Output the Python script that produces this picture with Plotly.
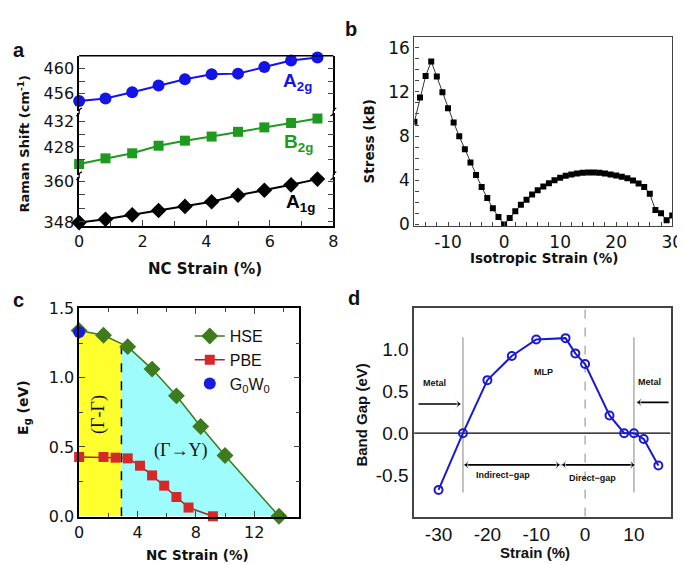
import numpy as np
import plotly.graph_objects as go

W, H = 685, 565
def fx(p): return p / W
def fy(p): return 1 - p / H

# ---------------- Panel a : Raman shift vs NC strain ----------------
nc_strain_a = [0, 0.83, 1.67, 2.5, 3.33, 4.17, 5.0, 5.83, 6.67, 7.5]
a2g = [454.8, 455.2, 456.2, 457.3, 458.3, 459.1, 459.2, 460.25, 461.3, 461.8]
b2g = [425.3, 426.2, 427.0, 428.2, 429.0, 429.65, 430.4, 431.1, 431.8, 432.5]
a1g = [347.8, 348.8, 350.1, 351.4, 352.6, 354.0, 355.9, 357.4, 359.0, 360.7]

# ---------------- Panel b : stress vs isotropic strain ----------------
iso_strain = list(range(-16, 31))
stress = [9.29, 11.48, 13.44, 14.75, 13.38, 11.97, 10.52, 9.23, 7.98, 6.8,
          5.6, 4.47, 3.38, 2.39, 1.46, 0.67, 0.0, 0.58, 1.19, 1.78,
          2.24, 2.72, 3.09, 3.44, 3.73, 4.0, 4.23, 4.41, 4.52, 4.61,
          4.67, 4.7, 4.7, 4.67, 4.61, 4.52, 4.44, 4.32, 4.18, 3.97,
          3.71, 3.39, 2.77, 1.31, 1.02, 0.38, 0.82]

# ---------------- Panel c : band gap vs NC strain ----------------
hse_strain = [0, 1.67, 3.33, 5.0, 6.67, 8.33, 10.0, 13.7]
hse_gap = [1.34, 1.306, 1.224, 1.062, 0.869, 0.648, 0.439, 0.0]
pbe_strain = [0, 1.67, 2.5, 3.33, 4.17, 5.0, 5.83, 6.67, 7.5, 9.17]
pbe_gap = [0.428, 0.428, 0.423, 0.418, 0.365, 0.295, 0.221, 0.139, 0.063, 0.0]
g0w0_strain = [0]
g0w0_gap = [1.33]
transition_strain = 2.9

# ---------------- Panel d : band gap vs strain ----------------
strain_d = [-30, -25, -20, -15, -10, -4, -2, 0, 5, 8, 10, 12, 15]
gap_d = [-0.68, 0.0, 0.636, 0.926, 1.124, 1.14, 0.957, 0.83, 0.213, 0.0, 0.0, -0.07, -0.388]

BLUE = "#1414e6"
GREEN_A = "#1e9a1e"
HSE_C = "#3f7a1c"
PBE_C = "#d62828"
PBE_L = "#9c2a2a"
DJ = "DejaVu Sans"
LS = "Liberation Sans"
SERIF = "Liberation Serif"

fig = go.Figure()

# ---- panel a traces
fig.add_trace(go.Scatter(x=nc_strain_a, y=a2g, xaxis="x", yaxis="y", mode="lines+markers",
                         line=dict(color=BLUE, width=2), marker=dict(symbol="circle", size=12, color=BLUE),
                         showlegend=False, cliponaxis=False))
fig.add_trace(go.Scatter(x=nc_strain_a, y=b2g, xaxis="x", yaxis="y2", mode="lines+markers",
                         line=dict(color=GREEN_A, width=2), marker=dict(symbol="square", size=10, color=GREEN_A),
                         showlegend=False, cliponaxis=False))
fig.add_trace(go.Scatter(x=nc_strain_a, y=a1g, xaxis="x", yaxis="y3", mode="lines+markers",
                         line=dict(color="black", width=2), marker=dict(symbol="diamond", size=12, color="black"),
                         showlegend=False, cliponaxis=False))

# ---- panel b
fig.add_trace(go.Scatter(x=iso_strain, y=stress, xaxis="x2", yaxis="y4", mode="lines+markers",
                         line=dict(color="#333", width=1), marker=dict(symbol="square", size=6, color="black"),
                         showlegend=False))

# ---- panel c fills
hs = np.array(hse_strain, dtype=float)
hg = np.array(hse_gap, dtype=float)
gb = float(np.interp(transition_strain, hs, hg))
left = hs < transition_strain
yx = list(hs[left]) + [transition_strain, transition_strain, hs[0]]
yy = list(hg[left]) + [gb, 0, 0]
fig.add_trace(go.Scatter(x=yx, y=yy, xaxis="x3", yaxis="y5", fill="toself", fillcolor="#ffff2e",
                         line=dict(width=0), mode="lines", showlegend=False, hoverinfo="skip"))
right = hs > transition_strain
cx = [transition_strain] + list(hs[right]) + [transition_strain]
cy = [gb] + list(hg[right]) + [0]
fig.add_trace(go.Scatter(x=cx, y=cy, xaxis="x3", yaxis="y5", fill="toself", fillcolor="#9ffcfc",
                         line=dict(width=0), mode="lines", showlegend=False, hoverinfo="skip"))
fig.add_trace(go.Scatter(x=[transition_strain, transition_strain], y=[0, gb], xaxis="x3", yaxis="y5",
                         mode="lines", line=dict(color="black", width=1.5, dash="dash"),
                         showlegend=False, hoverinfo="skip"))
fig.add_trace(go.Scatter(x=hse_strain, y=hse_gap, xaxis="x3", yaxis="y5", mode="lines+markers", name="HSE",
                         line=dict(color=HSE_C, width=1.5), marker=dict(symbol="diamond", size=13, color=HSE_C),
                         cliponaxis=False))
fig.add_trace(go.Scatter(x=pbe_strain, y=pbe_gap, xaxis="x3", yaxis="y5", mode="lines+markers", name="PBE",
                         line=dict(color=PBE_L, width=1.5), marker=dict(symbol="square", size=10, color=PBE_C),
                         cliponaxis=False))
fig.add_trace(go.Scatter(x=g0w0_strain, y=g0w0_gap, xaxis="x3", yaxis="y5", mode="markers",
                         name="G<sub>0</sub>W<sub>0</sub>",
                         marker=dict(symbol="circle", size=12, color="#1a1ae0"), cliponaxis=False))

# ---- panel d
fig.add_trace(go.Scatter(x=strain_d, y=gap_d, xaxis="x4", yaxis="y6", mode="lines+markers",
                         line=dict(color="#1a1ad0", width=2),
                         marker=dict(symbol="circle-open", size=8, color="#1a1ad0", line=dict(width=2)),
                         showlegend=False))

# panel d arrows (decorations) drawn as line traces with arrow-head markers
def arrow(x0, x1, y, both=False):
    d1 = 90 if x1 > x0 else -90
    sizes = [9 if both else 0, 9]
    fig.add_trace(go.Scatter(x=[x0, x1], y=[y, y], xaxis="x4", yaxis="y6", mode="lines+markers",
                             line=dict(color="black", width=1.6),
                             marker=dict(symbol="arrow-wide", size=sizes, color="black",
                                         angle=[-d1, d1], angleref="up"),
                             showlegend=False, hoverinfo="skip", cliponaxis=False))
arrow(-34.1, -25.4, 0.35)
arrow(17.1, 10.6, 0.37)
arrow(-24.8, -5.1, -0.38, both=True)
arrow(-4.8, 10.2, -0.38, both=True)

tickfont_a = dict(family=DJ, size=16, color="#111")
common = dict(showgrid=False, zeroline=False)

def seg_axis(domain, rng, major, minor_vals):
    return dict(domain=domain, range=rng, anchor="x", showline=True,
                linecolor="black", linewidth=1.5, ticks="inside", ticklen=6, tickwidth=1.2,
                tickmode="array", tickvals=major, mirror="ticks",
                minor=dict(tickmode="array", tickvals=minor_vals, ticks="inside", ticklen=6, tickwidth=1.2),
                tickfont=tickfont_a, **common)

layout = dict(
    width=W, height=H, autosize=False,
    margin=dict(l=0, r=0, t=0, b=0),
    paper_bgcolor="white", plot_bgcolor="rgba(0,0,0,0)",
    # panel a
    xaxis=dict(domain=[fx(67.7), fx(328)], range=[0, 8], anchor="y3", showline=True, linecolor="black",
               linewidth=1.5, ticks="inside", ticklen=6, tickwidth=1.2, tickvals=[0, 2, 4, 6, 8],
               minor=dict(tick0=0, dtick=1, ticks="inside", ticklen=5, tickwidth=1.2),
               tickfont=tickfont_a, mirror=False, **common),
    yaxis=seg_axis([fy(97), fy(40)], [453.2, 462.08], [456, 460], [458]),
    yaxis2=seg_axis([fy(163), fy(99)], [423.6, 433.4], [428, 432], [426, 430]),
    yaxis3=seg_axis([fy(216), fy(165)], [346.76, 361.4], [348, 360], [352, 356]),
    # panel b
    xaxis2=dict(domain=[fx(411), fx(675)], range=[-16, 30], anchor="y4", showline=True, linecolor="#444",
                linewidth=1.2, ticks="inside", ticklen=4, tickwidth=1, tickvals=[-10, 0, 10, 20, 30],
                ticktext=["-10", "0", "10", "20", "30"],
                minor=dict(tick0=0, dtick=2, ticks="inside", ticklen=4, tickwidth=1),
                tickfont=dict(family=DJ, size=17, color="#111"), mirror=True, **common),
    yaxis4=dict(domain=[fy(216), fy(20.7)], range=[-0.15, 16.96], anchor="x2", showline=True,
                linecolor="#444", linewidth=1.2, ticks="inside", ticklen=4, tickwidth=1,
                tick0=0, dtick=4, minor=dict(tick0=0, dtick=1, ticks="inside", ticklen=4, tickwidth=1),
                tickfont=dict(family=DJ, size=17, color="#111"), mirror=True, **common),
    # panel c
    xaxis3=dict(domain=[fx(67.7), fx(293.3)], range=[0, 15.1], anchor="y5", showline=True,
                linecolor="black", linewidth=1.5, ticks="inside", ticklen=6, tickwidth=1.2,
                tick0=0, dtick=4, minor=dict(tick0=0, dtick=2, ticks="inside", ticklen=4, tickwidth=1.2),
                tickfont=dict(family=DJ, size=16, color="#111"), mirror="allticks", **common),
    yaxis5=dict(domain=[fy(516), fy(301)], range=[-0.002, 1.5], anchor="x3", showline=True,
                linecolor="black", linewidth=1.5, ticks="inside", ticklen=6, tickwidth=1.2,
                tick0=0, dtick=0.5, tickformat=".1f",
                minor=dict(tick0=0, dtick=0.25, ticks="inside", ticklen=4, tickwidth=1.2),
                tickfont=dict(family=DJ, size=16, color="#111"), mirror="allticks", **common),
    # panel d
    xaxis4=dict(domain=[fx(410.7), fx(673.3)], range=[-35, 17.5], anchor="y6", showline=True,
                linecolor="#444", linewidth=1.5, ticks="", tickvals=[-30, -20, -10, 0, 10],
                ticktext=["-30", "-20", "-10", "0", "10"],
                tickfont=dict(family=LS, size=19, color="#111"), mirror=True, **common),
    yaxis6=dict(domain=[fy(516), fy(300.7)], range=[-1, 1.5], anchor="x4", showline=True,
                linecolor="#444", linewidth=1.5, ticks="", tickvals=[-0.5, 0, 0.5, 1.0],
                ticktext=["-0.5", "0.0", "0.5", "1.0"],
                tickfont=dict(family=LS, size=19, color="#111"), mirror=True, **common),
    legend=dict(x=fx(181), y=fy(312), xanchor="left", yanchor="top", bgcolor="rgba(0,0,0,0)",
                font=dict(family=LS, size=16, color="#111"), tracegroupgap=0, itemwidth=30),
)
fig.update_layout(**layout)

shapes = []
# panel a top border
shapes.append(dict(type="line", xref="paper", yref="paper", x0=fx(67.7), x1=fx(328), y0=fy(40), y1=fy(40),
                   line=dict(color="black", width=1.5)))
# break marks on panel a
def squiggle(xp, yp):
    pts = [(xp - 3, yp + 4), (xp + 4, yp + 2), (xp - 4, yp - 2), (xp + 3, yp - 4)]
    p = [(fx(a), fy(b)) for a, b in pts]
    return "M {} {} C {} {}, {} {}, {} {}".format(p[0][0], p[0][1], p[1][0], p[1][1], p[2][0], p[2][1], p[3][0], p[3][1])
for xp in (67.7, 328):
    for yp in (98, 164):
        shapes.append(dict(type="path", xref="paper", yref="paper", path=squiggle(xp, yp),
                           line=dict(color="black", width=1.3)))
# panel d reference lines
shapes.append(dict(type="line", xref="x4", yref="y6", x0=-35, x1=17.5, y0=0, y1=0,
                   line=dict(color="black", width=1.2), layer="below"))
shapes.append(dict(type="line", xref="x4", yref="y6", x0=0, x1=0, y0=-1, y1=1.5,
                   line=dict(color="#888", width=1, dash="dash"), layer="below"))
for xv in (-25, 10):
    shapes.append(dict(type="line", xref="x4", yref="y6", x0=xv, x1=xv, y0=-0.71, y1=1.15,
                       line=dict(color="#999", width=1.2), layer="below"))
fig.update_layout(shapes=shapes)

ann = []
def txt(x, y, text, size, family=DJ, bold=False, color="#111", angle=0, xanchor="center"):
    t = "<b>" + text + "</b>" if bold else text
    ann.append(dict(x=fx(x), y=fy(y), xref="paper", yref="paper", text=t, showarrow=False,
                    font=dict(family=family, size=size, color=color), textangle=angle,
                    xanchor=xanchor, yanchor="middle"))

# panel letters
txt(6, 34, "a", 20, LS, True)
txt(346, 12, "b", 20, LS, True)
txt(6, 292, "c", 20, LS, True)
txt(349, 290, "d", 20, LS, True)

# panel a
txt(197, 260, "NC Strain (%)", 15, DJ, True)
txt(11, 131, "Raman Shift (cm<sup>-1</sup>)", 13, DJ, True, angle=-90)
txt(291, 67, "A<sub>2g</sub>", 19, LS, True, color=BLUE)
txt(292, 130, "B<sub>2g</sub>", 19, LS, True, color=GREEN_A)
txt(294, 192, "A<sub>1g</sub>", 19, LS, True, color="black")

# panel b
txt(544, 249, "Isotropic Strain (%)", 13.5, DJ, True)
txt(364, 128, "Stress (kB)", 13.5, DJ, True, angle=-90)

# panel c
txt(189, 556, "NC Strain (%)", 13.5, DJ, True)
txt(11, 403, "E<sub>g</sub> (eV)", 14, DJ, True, angle=-90)
txt(88, 410, "(Γ-Γ)", 18, SERIF, False, angle=-90)
txt(172, 448, "(Γ→Y)", 18, SERIF, False)

# panel d
txt(534, 553, "Strain (%)", 15, LS, True)
txt(357, 411, "Band Gap (eV)", 15, LS, True, angle=-90)
txt(432, 378, "Metal", 9, LS, True)
txt(652, 377, "Metal", 9, LS, True)
txt(543, 367, "MLP", 9, LS, True)
txt(502, 473, "Indirect−gap", 9, LS, True)
txt(593, 476, "Direct−gap", 9, LS, True)

fig.update_layout(annotations=ann)
fig.write_html("out.html")
